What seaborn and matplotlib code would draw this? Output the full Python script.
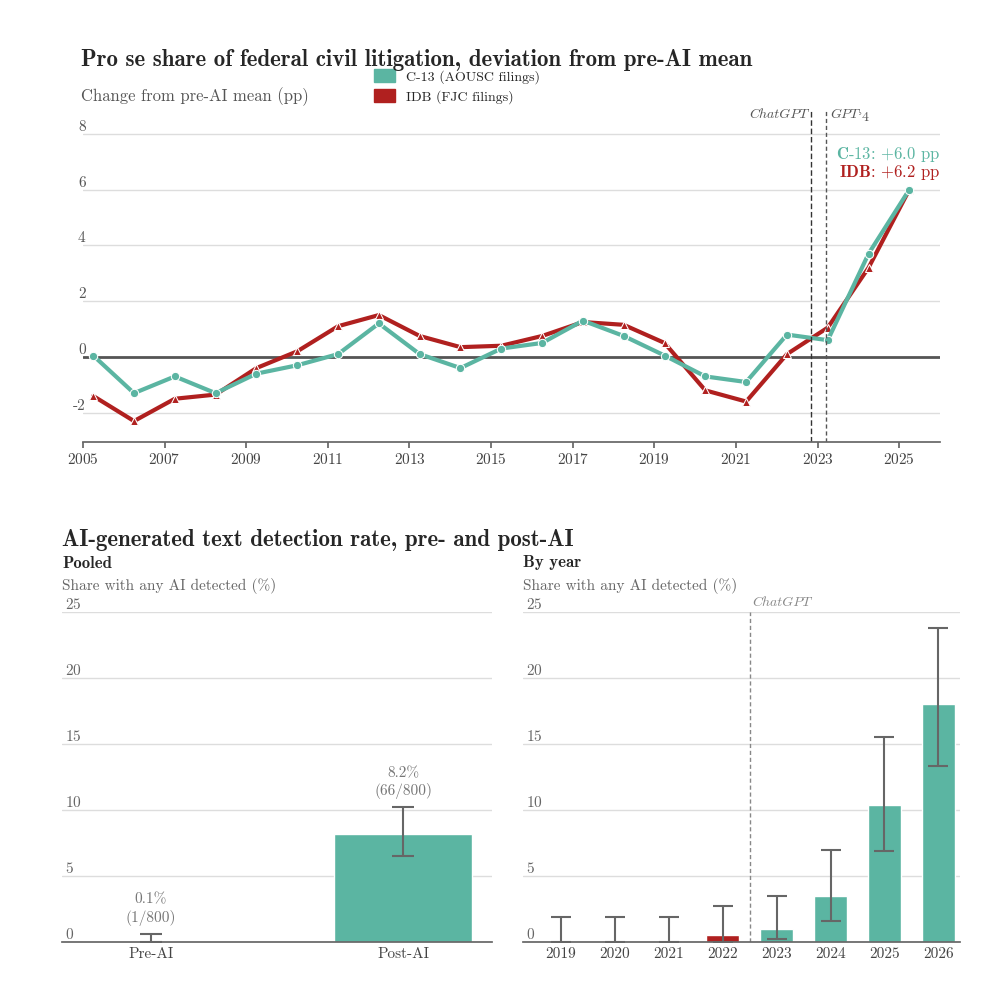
import matplotlib
matplotlib.use("Agg")
import matplotlib.pyplot as plt
import seaborn as sns
import numpy as np
import pandas as pd
from matplotlib.patches import Patch

years = list(range(2005, 2026))
c13 = [0.05, -1.3, -0.7, -1.3, -0.6, -0.3, 0.1, 1.2, 0.1, -0.4, 0.3, 0.5, 1.3, 0.75, 0.05, -0.7, -0.9, 0.8, 0.6, 3.7, 6.0]
idb = [-1.4, -2.3, -1.5, -1.35, -0.4, 0.2, 1.1, 1.5, 0.75, 0.35, 0.4, 0.75, 1.25, 1.15, 0.5, -1.2, -1.6, 0.1, 1.05, 3.2, 6.0]

pooled_labels = ["Pre-AI", "Post-AI"]
pooled_vals = [0.1, 8.2]
pooled_lo = [0.0, 6.5]
pooled_hi = [0.6, 10.2]
pooled_text = ["0.1%\n(1/800)", "8.2%\n(66/800)"]

yr_labels = ["2019", "2020", "2021", "2022", "2023", "2024", "2025", "2026"]
yr_vals = [0, 0, 0, 0.5, 1.0, 3.5, 10.4, 18.0]
yr_lo = [0, 0, 0, 0, 0.2, 1.6, 6.9, 13.3]
yr_hi = [1.9, 1.9, 1.9, 2.7, 3.5, 7.0, 15.5, 23.8]

TEAL = "#5bb5a2"
RED = "#b0201f"
GRAY = "#666666"

sns.set_theme(style="white")
plt.rcParams['font.family'] = ['cmr10', 'DejaVu Serif']
plt.rcParams['axes.formatter.use_mathtext'] = True
plt.rcParams['mathtext.fontset'] = 'cm'

fig = plt.figure(figsize=(10, 10), dpi=100)

# ---------- top ----------
ax = fig.add_axes([0.083, 0.558, 0.857, 0.332])
df = pd.DataFrame({"x": [y + 0.25 for y in years] * 2,
                   "v": c13 + idb,
                   "s": ["C-13"] * len(years) + ["IDB"] * len(years)})
sns.lineplot(data=df[df.s == "IDB"], x="x", y="v", color=RED, lw=3,
             marker="^", markersize=6, markeredgecolor="white", ax=ax, legend=False)
sns.lineplot(data=df[df.s == "C-13"], x="x", y="v", color=TEAL, lw=3,
             marker="o", markersize=6, markeredgecolor="white", ax=ax, legend=False)
ax.axhline(0, color="#555555", lw=2, zorder=1)
ax.axvline(2022.85, color="#333333", ls=(0, (4, 2)), lw=1)
ax.axvline(2023.2, color="#555555", ls=(0, (3, 2)), lw=1)
ax.text(2022.75, 8.45, "ChatGPT", style="italic", ha="right", va="bottom", fontsize=10, color="#555555",
        family=['cmmi10', 'DejaVu Serif'])
ax.text(2023.3, 8.45, "GPT-4", style="italic", ha="left", va="bottom", fontsize=10, color="#555555",
        family=['cmmi10', 'DejaVu Serif'])
ax.text(2026.0, 7.1, r"$\bf{C\text{-}13}$: +6.0 pp", color=TEAL, ha="right", fontsize=12)
ax.text(2026.0, 6.45, r"$\bf{IDB}$: +6.2 pp", color=RED, ha="right", fontsize=12)
ax.set_xlim(2005, 2026)
ax.set_ylim(-3.05, 8.85)
ax.set_yticks([-2, 0, 2, 4, 6, 8])
ax.set_yticklabels(["-2", "0", "2", "4", "6", "8"])
ax.set_xticks(range(2005, 2026, 2))
ax.grid(axis="y", color="#dddddd", lw=1)
for s in ["top", "right", "left"]:
    ax.spines[s].set_visible(False)
ax.spines["bottom"].set_color(GRAY)
ax.tick_params(axis="y", length=0, labelsize=11, labelcolor="#555555", pad=-2)
ax.tick_params(axis="x", length=4, color=GRAY, labelsize=11, labelcolor="#444444", bottom=True)
for lab in ax.get_yticklabels():
    lab.set_verticalalignment("bottom")
ax.set_xlabel(""); ax.set_ylabel("")
fig.text(0.081, 0.940, "Pro se share of federal civil litigation, deviation from pre-AI mean",
         fontsize=16.5, fontweight="bold", family=['cmb10', 'DejaVu Serif'], va="center")
fig.text(0.081, 0.903, "Change from pre-AI mean (pp)", fontsize=12, color="#555555", va="center")
ax.legend(handles=[Patch(color=TEAL, label="C-13 (AOUSC filings)"),
                   Patch(color=RED, label="IDB (FJC filings)")],
          loc="upper left", bbox_to_anchor=(0.325, 1.16), frameon=False, fontsize=10,
          handlelength=1.5, handleheight=1.0, labelspacing=0.4)

# ---------- bottom ----------
fig.text(0.062, 0.460, "AI-generated text detection rate, pre- and post-AI",
         fontsize=16.5, fontweight="bold", family=['cmb10', 'DejaVu Serif'], va="center")

def style(a):
    a.set_ylim(0, 25)
    a.set_yticks([0, 5, 10, 15, 20, 25])
    a.grid(axis="y", color="#dddddd", lw=1)
    for s in ["top", "right", "left"]:
        a.spines[s].set_visible(False)
    a.spines["bottom"].set_color(GRAY)
    a.tick_params(axis="y", length=0, labelsize=11, labelcolor="#666666", pad=-2)
    a.tick_params(axis="x", length=0, labelsize=11, labelcolor="#444444")
    for lab in a.get_yticklabels():
        lab.set_verticalalignment("bottom")
        lab.set_horizontalalignment("left")
    a.set_xlabel(""); a.set_ylabel("")

axl = fig.add_axes([0.062, 0.058, 0.43, 0.33])
sns.barplot(x=pooled_labels, y=pooled_vals, palette=["#c0392b", TEAL], hue=pooled_labels,
            legend=False, width=0.55, saturation=1, ax=axl)
axl.errorbar(range(2), pooled_vals, yerr=[np.subtract(pooled_vals, pooled_lo), np.subtract(pooled_hi, pooled_vals)],
             fmt="none", ecolor=GRAY, capsize=8, lw=1.5, capthick=1.5)
for i, t in enumerate(pooled_text):
    axl.text(i, pooled_hi[i] + 0.6, t, ha="center", va="bottom", fontsize=11, color="#777777", linespacing=1.3)
style(axl)
fig.text(0.062, 0.437, "Pooled", fontsize=12, fontweight="bold", family=['cmb10', 'DejaVu Serif'], va="center")
fig.text(0.062, 0.414, "Share with any AI detected (%)", fontsize=11, color="#666666", va="center")

axr = fig.add_axes([0.523, 0.058, 0.437, 0.33])
cols = [RED if y == "2022" else TEAL for y in yr_labels]
sns.barplot(x=yr_labels, y=yr_vals, palette=cols, hue=yr_labels, legend=False, width=0.62,
            saturation=1, ax=axr)
axr.errorbar(range(8), yr_vals, yerr=[np.subtract(yr_vals, yr_lo), np.subtract(yr_hi, yr_vals)],
             fmt="none", ecolor=GRAY, capsize=7, lw=1.5, capthick=1.5)
axr.axvline(3.5, color="#888888", ls=(0, (3, 2)), lw=1)
axr.text(3.55, 25.2, "ChatGPT", style="italic", fontsize=10, color="#888888", va="bottom",
         family=['cmmi10', 'DejaVu Serif'])
style(axr)
axr.set_xlim(-0.7, 7.4)
fig.text(0.523, 0.437, "By year", fontsize=12, fontweight="bold", family=['cmb10', 'DejaVu Serif'], va="center")
fig.text(0.523, 0.414, "Share with any AI detected (%)", fontsize=11, color="#666666", va="center")

fig.savefig("out.png", dpi=100, facecolor="white")
